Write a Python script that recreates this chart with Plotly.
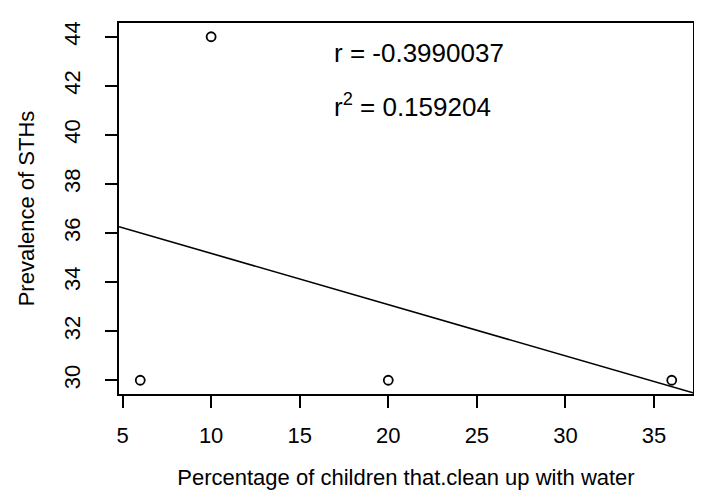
import numpy as np
import plotly.graph_objects as go

# Data
pct_clean_water = [6, 10, 20, 36]
prevalence_sth = [30, 44, 30, 30]
x_ticks = [5, 10, 15, 20, 25, 30, 35]
y_ticks = [30, 32, 34, 36, 38, 40, 42, 44]
r_text = "r = -0.3990037"
r2_text = "r<sup>2</sup> = 0.159204"

x_range = [4.8, 37.2]
y_range = [29.44, 44.56]

# Least-squares fit line (abline of lm), clipped to plot region
slope, intercept = np.polyfit(pct_clean_water, prevalence_sth, 1)
line_x = np.array(x_range)
line_y = intercept + slope * line_x

FONT = "Liberation Sans, Arial, sans-serif"

fig = go.Figure()
fig.add_trace(go.Scatter(
    x=line_x, y=line_y, mode="lines",
    line=dict(color="black", width=1.6), cliponaxis=True, showlegend=False,
))
fig.add_trace(go.Scatter(
    x=pct_clean_water, y=prevalence_sth, mode="markers",
    marker=dict(symbol="circle-open", size=9, color="black", line=dict(width=1.8)),
    showlegend=False,
))

fig.add_annotation(
    x=16.82, y=43.35, xref="x", yref="y", text=r_text, showarrow=False,
    xanchor="left", yanchor="middle", font=dict(family=FONT, size=26, color="black"),
)
fig.add_annotation(
    x=16.82, y=41.2, xref="x", yref="y", text=r2_text, showarrow=False,
    xanchor="left", yanchor="middle", font=dict(family=FONT, size=26, color="black"),
)

axis_common = dict(
    showgrid=False, zeroline=False, showline=True, mirror=True,
    linecolor="black", linewidth=1.6, ticks="outside", ticklen=12,
    tickwidth=1.6, tickcolor="black", automargin=False,
    tickfont=dict(family=FONT, size=22, color="black"),
)

fig.update_xaxes(
    range=x_range, tickvals=x_ticks, ticktext=[str(v) for v in x_ticks],
    title=dict(text="Percentage of children that.clean up with water",
               font=dict(family=FONT, size=22, color="black"), standoff=22),
    ticklabelstandoff=9,
    **axis_common,
)
fig.update_yaxes(
    range=y_range, tickvals=y_ticks, ticktext=[str(v) for v in y_ticks],
    tickangle=-90,
    title=dict(text="Prevalence of STHs",
               font=dict(family=FONT, size=22, color="black"), standoff=20),
    ticklabelstandoff=16,
    **axis_common,
)

fig.update_layout(
    width=702, height=497,
    margin=dict(l=111, r=17, t=15, b=111),
    paper_bgcolor="white", plot_bgcolor="white",
    font=dict(family=FONT, color="black"),
)

fig.write_html("out.html")
